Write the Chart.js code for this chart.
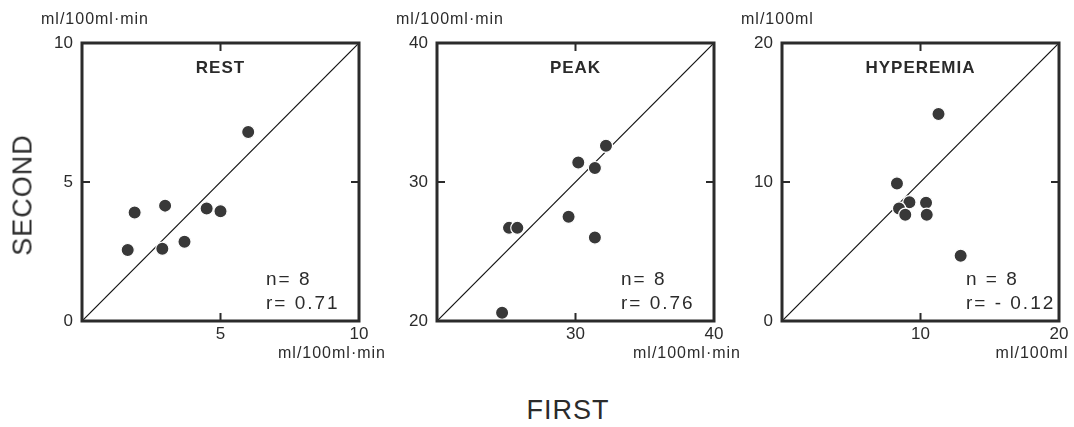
<!DOCTYPE html>
<html>
<head>
<meta charset="utf-8">
<title>First vs second measurement</title>
<script src="https://cdn.jsdelivr.net/npm/chart.js@4.4.1/dist/chart.umd.min.js"></script>
<style>
  html, body { margin: 0; padding: 0; background: #fff; }
  #wrap {
    position: relative; width: 1074px; height: 427px; overflow: hidden;
    background: #fff; color: #2b2b2b;
    font-family: 'Liberation Sans', Arial, sans-serif;
  }
  #wrap canvas { position: absolute; top: 0; }
  .axis-name { position: absolute; font-size: 27px; letter-spacing: 1px; white-space: nowrap; }
  #second { left: 23px; top: 195px; transform: translate(-50%, -50%) rotate(-90deg); }
  #first { left: 568px; top: 410px; transform: translate(-50%, -50%); }
</style>
</head>
<body>
<div id="wrap">
  <canvas id="restChart" width="400" height="380" style="left:22px"></canvas>
  <canvas id="peakChart" width="400" height="380" style="left:377px"></canvas>
  <canvas id="hypChart" width="400" height="380" style="left:722px"></canvas>
  <div class="axis-name" id="second">SECOND</div>
  <div class="axis-name" id="first">FIRST</div>
</div>
<script>
'use strict';

// --- 1. Data ---
const restFirst  = [6.0, 1.9, 3.0, 4.5, 5.0, 1.65, 2.9, 3.7];
const restSecond = [6.8, 3.9, 4.15, 4.05, 3.95, 2.55, 2.6, 2.85];
const restYTicks = [0, 5, 10];
const restXTicks = [5, 10];
const restStats  = ['n= 8', 'r= 0.71'];

const peakFirst  = [32.2, 30.2, 31.4, 25.2, 25.8, 29.5, 31.4, 24.7];
const peakSecond = [32.6, 31.4, 31.0, 26.7, 26.7, 27.5, 26.0, 20.6];
const peakYTicks = [20, 30, 40];
const peakXTicks = [30, 40];
const peakStats  = ['n= 8', 'r= 0.76'];

const hypFirst  = [11.3, 8.3, 9.2, 10.4, 8.45, 8.9, 10.45, 12.9];
const hypSecond = [14.9, 9.9, 8.55, 8.5, 8.1, 7.65, 7.65, 4.7];
const hypYTicks = [0, 10, 20];
const hypXTicks = [10, 20];
const hypStats  = ['n = 8', 'r= - 0.12'];

const FONT = "'Liberation Sans', Arial, sans-serif";
const INK = '#2b2b2b';

// --- 2. Frame, inner ticks and panel texts ---
const panelDecor = {
    id: 'panelDecor',
    afterDatasetsDraw(chart, args, opts) {
        const { ctx, chartArea: a, scales: { x, y } } = chart;
        ctx.save();
        ctx.strokeStyle = INK;
        ctx.lineWidth = 2;
        ctx.beginPath();
        x.ticks.forEach(t => {
            if (t.value <= x.min || t.value >= x.max) return;
            const px = x.getPixelForValue(t.value);
            ctx.moveTo(px, a.bottom); ctx.lineTo(px, a.bottom - 8);
            ctx.moveTo(px, a.top); ctx.lineTo(px, a.top + 8);
        });
        y.ticks.forEach(t => {
            if (t.value <= y.min || t.value >= y.max) return;
            const py = y.getPixelForValue(t.value);
            ctx.moveTo(a.left, py); ctx.lineTo(a.left + 8, py);
            ctx.moveTo(a.right, py); ctx.lineTo(a.right - 8, py);
        });
        ctx.stroke();

        ctx.lineWidth = 3;
        ctx.strokeRect(a.left, a.top, a.width, a.height);

        ctx.fillStyle = INK;
        ctx.textBaseline = 'middle';
        ctx.textAlign = 'center';
        ctx.letterSpacing = '1px';
        ctx.font = `bold 17px ${FONT}`;
        ctx.fillText(opts.title, (a.left + a.right) / 2, a.top + 25);

        ctx.textAlign = 'left';
        ctx.letterSpacing = '2px';
        ctx.font = `19px ${FONT}`;
        ctx.fillText(opts.stats[0], a.right - 93, a.bottom - 41);
        ctx.fillText(opts.stats[1], a.right - 93, a.bottom - 17);

        ctx.letterSpacing = '1px';
        ctx.font = `16px ${FONT}`;
        ctx.fillText(opts.unitY, a.left - 41, a.top - 23);
        ctx.textAlign = 'center';
        ctx.fillText(opts.unitX, a.right - 27, a.bottom + 33);
        ctx.restore();
    }
};

// --- 3. Chart builder ---
function buildPanel(canvasId, first, second, xTicks, yTicks, title, stats, unitX, unitY) {
    const lo = yTicks[0];
    const hi = yTicks[yTicks.length - 1];
    const points = first.map((v, i) => ({ x: v, y: second[i] }));
    const diagonal = [lo, hi].map(v => ({ x: v, y: v }));

    const axisBase = {
        type: 'linear', min: lo, max: hi,
        grid: { display: false, drawTicks: false },
        border: { display: false },
    };

    return new Chart(document.getElementById(canvasId), {
        type: 'scatter',
        data: {
            datasets: [
                { data: points, order: 0, clip: false, pointRadius: 6.6, pointBackgroundColor: '#383838', pointBorderColor: '#fff', pointBorderWidth: 1.2 },
                { type: 'line', data: diagonal, order: 1, borderColor: '#111', borderWidth: 1.2, pointRadius: 0, fill: false }
            ]
        },
        options: {
            responsive: false,
            animation: false,
            events: [],
            layout: { padding: { top: 43, right: 63, bottom: 0, left: 0 } },
            plugins: {
                legend: { display: false },
                tooltip: { enabled: false },
                panelDecor: { title, stats, unitX, unitY }
            },
            scales: {
                x: {
                    ...axisBase,
                    afterBuildTicks: s => { s.ticks = xTicks.map(v => ({ value: v })); },
                    afterFit: s => { s.height = 59; },
                    ticks: { padding: 3, color: INK, font: { family: FONT, size: 17 }, maxRotation: 0 }
                },
                y: {
                    ...axisBase,
                    afterBuildTicks: s => { s.ticks = yTicks.map(v => ({ value: v })); },
                    afterFit: s => { s.width = 60; },
                    ticks: { padding: 9, color: INK, font: { family: FONT, size: 17 } }
                }
            }
        },
        plugins: [panelDecor]
    });
}

// --- 4. Initial render ---
buildPanel('restChart', restFirst, restSecond, restXTicks, restYTicks, 'REST', restStats, 'ml/100ml·min', 'ml/100ml·min');
buildPanel('peakChart', peakFirst, peakSecond, peakXTicks, peakYTicks, 'PEAK', peakStats, 'ml/100ml·min', 'ml/100ml·min');
buildPanel('hypChart', hypFirst, hypSecond, hypXTicks, hypYTicks, 'HYPEREMIA', hypStats, 'ml/100ml', 'ml/100ml');
</script>
</body>
</html>
